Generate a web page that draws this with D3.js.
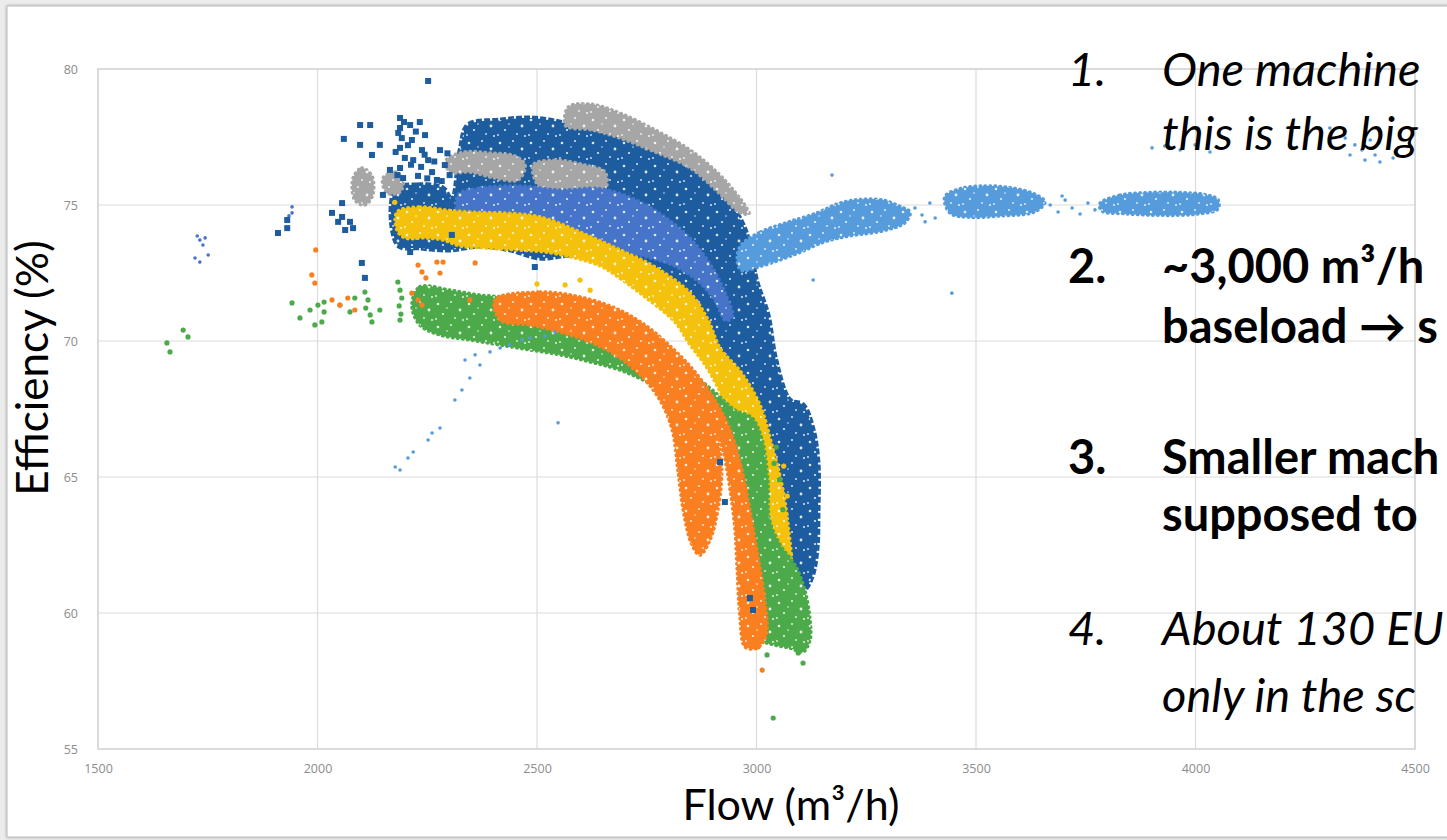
<!DOCTYPE html>
<html>
<head>
<meta charset="utf-8">
<title>Flow vs efficiency</title>
<script src="https://cdnjs.cloudflare.com/ajax/libs/d3/7.8.5/d3.min.js"></script>
<style>
  body { margin: 0; background: #ececec; }
  svg { display: block; }
</style>
</head>
<body>
<div id="chart"></div>
<script>
// axis ticks
var flowTicks = [1500, 2000, 2500, 3000, 3500, 4000, 4500];
var effTicks = [55, 60, 65, 70, 75, 80];

// dense clouds are traced as outlines of [flow, efficiency], sparse points listed one by one
var darkBlueCloud = [[2177,75.55],[2233,75.74],[2286,75.62],[2306,75.18],[2325,77.02],[2343,77.94],[2416,78.12],[2484,78.20],
  [2552,78.05],[2598,77.83],[2689,77.46],[2769,76.95],[2849,76.36],[2905,75.62],[2953,74.74],[2976,74.01],[2990,72.98],
  [3001,72.17],[3026,70.96],[3044,69.30],[3076,67.83],[3106,67.65],[3129,66.73],[3140,65.51],[3140,63.68],[3138,62.43],
  [3129,61.47],[3115,60.96],[3099,60.70],[3088,61.21],[3076,62.68],[3065,64.15],[3049,65.44],[3019,66.73],[2962,67.65],
  [2940,69.12],[2905,70.22],[2867,71.32],[2814,72.06],[2746,72.79],[2666,73.16],[2575,73.16],[2507,73.05],[2438,73.35],
  [2370,73.49],[2302,73.35],[2233,73.42],[2183,73.53]];
var darkBluePoints = [[2252,79.56],[2097,77.94],[2120,77.94],[2060,77.43],[2097,77.21],[2142,77.21],[2033,74.71],[2056,75.07],
  [2047,74.38],[2074,74.38],[2063,74.08],[2056,74.56],[2081,74.15],[1931,74.45],[1910,73.97],[1931,74.15],[2101,72.87],
  [2108,72.32],[2211,73.27],[2306,73.90],[2495,72.72],[2149,75.37],[2124,76.84],[2165,76.29],
  [2188,78.20],[2188,77.83],[2192,77.46],[2188,77.10],[2199,76.73],[2188,76.36],[2195,75.99],[2211,77.94],[2215,77.39],
  [2233,78.05],[2245,77.57],[2238,77.02],[2252,76.65],[2261,76.21],[2272,75.92],[2279,77.02],[2290,76.47],[2218,76.65],
  [2229,76.07],[2184,77.65],[2197,78.05],[2206,77.20],[2213,76.48],[2224,77.70],[2236,76.40],[2244,76.85],[2250,75.98],
  [2266,76.60],[2283,75.88],[2296,76.90],[2301,76.10],[2178,76.95],[2182,76.10],
  [2917,65.55],[2928,64.08],[2985,60.55],[2992,60.11]];

var greyArc = [[2564,77.94],[2571,78.60],[2621,78.71],[2689,78.38],[2769,77.76],[2849,77.02],[2912,76.18],[2953,75.44],
  [2976,74.93],[2983,74.67],[2960,74.74],[2912,75.48],[2849,76.36],[2769,76.95],[2689,77.46],[2625,77.76],[2577,77.83]];
var greyPatchA = [[2081,75.99],[2101,76.36],[2124,76.07],[2126,75.37],[2108,75.00],[2085,75.18]];
var greyPatchB = [[2293,76.65],[2336,76.95],[2393,76.91],[2450,76.80],[2473,76.47],[2457,75.92],[2404,75.99],[2347,76.21],[2302,76.21]];
var greyPatchC = [[2491,76.47],[2541,76.65],[2609,76.47],[2655,76.21],[2655,75.55],[2609,75.33],[2552,75.44],[2507,75.62]];
var greyPatchD = [[2149,75.99],[2177,76.21],[2195,75.92],[2188,75.48],[2158,75.44]];

var midBlueCloud = [[2320,75.37],[2370,75.62],[2461,75.70],[2552,75.55],[2644,75.60],[2723,75.20],[2792,74.55],[2853,73.70],
  [2899,72.70],[2930,71.70],[2945,70.90],[2930,70.75],[2905,71.50],[2867,72.20],[2815,72.75],[2760,73.05],
  [2689,73.30],[2609,73.55],[2534,73.85],[2461,74.10],[2393,74.20],[2329,74.28]];
var midBluePoints = [[1726,73.86],[1732,73.71],[1744,73.79],[1739,73.53],[1721,73.05],[1732,72.90],[1751,73.16],
  [1942,74.93],[1942,74.71],[1935,74.60]];

var yellowCloud = [[2181,74.74],[2233,74.93],[2290,74.82],[2347,74.74],[2416,74.71],[2484,74.63],[2530,74.45],[2609,73.93],
  [2689,73.35],[2769,72.72],[2849,71.76],[2890,70.77],[2917,69.74],[2965,68.85],[3008,67.65],[3035,66.18],[3058,64.71],
  [3072,63.24],[3079,61.76],[3067,60.85],[3044,60.77],[3026,61.58],[3008,63.24],[2985,65.07],[2956,66.73],[2921,68.01],
  [2883,69.12],[2849,69.85],[2814,70.70],[2746,71.62],[2678,72.43],[2644,72.76],[2587,73.05],[2518,73.27],[2450,73.35],
  [2382,73.42],[2325,73.49],[2286,73.71],[2245,73.79],[2199,73.79],[2181,74.08]];
var yellowPoints = [[2598,72.24],[2621,71.87],[2564,72.06],[2176,75.10],[2500,72.10],[3062,65.40],[3070,64.30],[3066,63.10]];

var greenCloud = [[2215,71.32],[2233,71.99],[2302,71.87],[2370,71.69],[2461,71.58],[2552,71.32],[2644,71.03],[2712,70.48],
  [2780,69.67],[2849,68.86],[2905,68.12],[2951,67.46],[2990,67.17],[3013,66.36],[3026,64.89],[3030,63.42],[3054,62.50],
  [3088,61.76],[3110,60.85],[3122,59.74],[3122,59.01],[3106,58.57],[3076,58.71],[3042,58.82],[3013,59.01],[2990,60.48],
  [2985,61.95],[2981,63.42],[2972,64.89],[2958,65.99],[2928,66.80],[2883,67.46],[2826,68.01],[2757,68.46],[2689,68.93],
  [2621,69.23],[2552,69.49],[2484,69.67],[2416,69.85],[2347,70.04],[2279,70.22],[2233,70.59]];
var greenPoints = [[1657,69.93],[1664,69.60],[1694,70.40],[1705,70.15],[1942,71.40],[1960,70.85],[1983,71.14],[2001,71.32],
  [2010,70.70],[1994,70.59],[2015,71.43],[2015,71.07],[2108,71.80],[2115,71.51],[2110,71.21],[2120,70.96],[2124,70.70],
  [2183,72.17],[2188,71.87],[2192,71.58],[2186,71.29],[2190,70.99],[2188,70.77],[2051,71.32],[2074,71.07],[2085,71.58],
  [2142,71.14],[3024,58.46],[3106,58.16],[3095,58.53],[3038,56.14],[3045,66.10],[3052,64.90],[3060,63.80],[3040,65.50]];

var orangeCloud = [[2404,71.51],[2507,71.80],[2598,71.62],[2678,71.21],[2746,70.59],[2808,69.74],[2860,68.86],[2905,67.83],
  [2940,66.73],[2967,65.26],[2985,63.79],[3003,62.13],[3019,60.48],[3022,59.19],[3001,58.71],[2974,58.75],[2962,59.93],
  [2956,61.58],[2951,63.05],[2940,64.52],[2926,65.81],[2912,66.54],[2921,65.26],[2912,63.79],[2894,62.68],[2871,62.13],
  [2853,62.50],[2835,63.60],[2821,65.26],[2808,66.73],[2780,67.83],[2735,68.75],[2678,69.49],[2621,69.96],[2552,70.33],
  [2484,70.59],[2416,70.77]];
var orangePoints = [[1987,72.43],[1994,72.13],[1996,73.35],[2229,72.79],[2238,72.54],[2247,72.32],[2033,71.51],[2051,71.32],
  [2069,71.58],[2085,71.14],[2215,71.76],[2229,71.51],[2238,71.32],[2272,72.90],[2286,72.90],[2359,72.87],[2279,72.50],
  [2347,71.51],[3003,58.75],[3013,57.90]];

var lightBlueCloud1 = [[2965,73.53],[3010,74.01],[3074,74.38],[3138,74.71],[3186,75.05],[3233,75.20],[3288,75.18],[3329,74.93],
  [3350,74.74],[3338,74.35],[3288,74.05],[3208,73.85],[3154,73.64],[3090,73.20],[3010,72.75],[2965,72.60],[2956,73.05]];
var lightBlueCloud2 = [[3429,75.30],[3464,75.60],[3520,75.70],[3577,75.64],[3634,75.40],[3657,75.11],[3634,74.75],[3555,74.60],
  [3486,74.55],[3441,74.70]];
var lightBlueCloud3 = [[3782,75.05],[3828,75.36],[3896,75.46],[3965,75.46],[4022,75.38],[4051,75.20],[4051,74.85],[3999,74.66],
  [3919,74.62],[3839,74.68],[3787,74.78]];
var lightBluePoints = [[3361,74.89],[3377,74.63],[3395,75.07],[3407,74.52],[3384,74.38],[3669,75.00],[3687,74.74],[3703,75.18],
  [3719,74.89],[3737,74.67],[3755,75.07],[3771,74.82],[3696,75.33],[3172,76.10],[3129,72.24],[3445,71.76],
  [3901,77.10],[3930,77.17],[3965,77.02],[3999,77.21],[4033,76.95],[4306,77.83],[4341,77.46],[4363,77.21],[4379,77.02],
  [4398,77.39],[4409,76.84],[4420,76.58],[4439,77.10],[4450,76.73],[4352,76.84],[4386,76.65],
  [2177,65.37],[2188,65.26],[2206,65.70],[2218,65.92],[2252,66.36],[2261,66.62],[2279,66.80],[2313,67.83],[2329,68.20],
  [2347,68.64],[2370,69.12],[2336,69.30],[2359,69.49],[2393,69.60],[2416,69.74],[2438,69.85],[2466,70.04],[2484,70.11],
  [2518,70.18],[2541,70.33],[2548,66.99]];

var notes = [
  {num: "1.", lines: ["One machine", "this is the big"], italic: true},
  {num: "2.", lines: ["~3,000 m³/h", "baseload \u2192 s"], italic: false},
  {num: "3.", lines: ["Smaller mach", "supposed to"], italic: false},
  {num: "4.", lines: ["About 130 EU", "only in the sc"], italic: true}
];
var noteBase = [86, 283, 474, 645];
var noteGap = [64, 60, 57, 67];

var series = [
  {color: "#1d5d9f", clouds: [darkBlueCloud], points: [], square: true},
  {color: "#a6a6a6", clouds: [greyArc, greyPatchA, greyPatchB, greyPatchC, greyPatchD], points: []},
  {color: "#4674c8", clouds: [midBlueCloud], points: []},
  {color: "#f4c20d", clouds: [yellowCloud], points: []},
  {color: "#4caa4a", clouds: [greenCloud], points: greenPoints},
  {color: "#f4c20d", clouds: [], points: yellowPoints},
  {color: "#fa7f20", clouds: [orangeCloud], points: orangePoints},
  {color: "#569cdc", clouds: [lightBlueCloud1, lightBlueCloud2, lightBlueCloud3], points: lightBluePoints, small: true},
  {color: "#4674c8", clouds: [], points: midBluePoints, small: true},
  {color: "#1d5d9f", clouds: [], points: darkBluePoints, square: true}
];

var width = 1447, height = 840;
var x = d3.scaleLinear().domain([1500, 4500]).range([98, 1415]);
var y = d3.scaleLinear().domain([55, 80]).range([749, 69]);

var svg = d3.select("#chart").append("svg")
    .attr("width", width)
    .attr("height", height);

var defs = svg.append("defs");
var sh = defs.append("filter").attr("id", "shadow")
    .attr("x", "-2%").attr("y", "-2%").attr("width", "104%").attr("height", "104%");
sh.append("feDropShadow").attr("dx", 0).attr("dy", 0).attr("stdDeviation", 1.5)
    .attr("flood-color", "#777").attr("flood-opacity", 0.6);

// white specks so the clouds read as dots rather than flat shapes
var speck = defs.append("pattern").attr("id", "speck")
    .attr("patternUnits", "userSpaceOnUse").attr("width", 31).attr("height", 23);
[[4,5,1.3],[17,3,1.0],[26,11,1.4],[9,15,1.1],[21,19,0.9],[13,9,0.8],[29,21,1.0],[2,20,0.9]].forEach(function(c){
    speck.append("circle").attr("cx", c[0]).attr("cy", c[1]).attr("r", c[2]).attr("fill", "#fff");
});

// slide card
svg.append("rect")
    .attr("x", 7).attr("y", 6).attr("width", 1470).attr("height", 831)
    .attr("fill", "#fff").attr("stroke", "#bfbfbf")
    .attr("filter", "url(#shadow)");

// grid
var grid = svg.append("g");
grid.selectAll("line.v").data(flowTicks).enter().append("line")
    .attr("x1", function(d){ return x(d); }).attr("x2", function(d){ return x(d); })
    .attr("y1", y(80)).attr("y2", y(55))
    .attr("stroke", "#dcdcdc").attr("stroke-width", 1.2);
grid.selectAll("line.h").data(effTicks).enter().append("line")
    .attr("x1", x(1500)).attr("x2", x(4500))
    .attr("y1", function(d){ return y(d); }).attr("y2", function(d){ return y(d); })
    .attr("stroke", "#dcdcdc").attr("stroke-width", 1.2);
grid.append("rect")
    .attr("x", x(1500)).attr("y", y(80))
    .attr("width", x(4500) - x(1500)).attr("height", y(55) - y(80))
    .attr("fill", "none").attr("stroke", "#d6d6d6").attr("stroke-width", 1.6);

// tick labels
var yAxis = svg.append("g").attr("transform", "translate(" + x(1500) + ",0)")
    .call(d3.axisLeft(y).tickValues(effTicks).tickSize(0).tickPadding(20));
var xAxis = svg.append("g").attr("transform", "translate(0," + y(55) + ")")
    .call(d3.axisBottom(x).tickValues(flowTicks).tickFormat(d3.format("d")).tickSize(0).tickPadding(15));
[yAxis, xAxis].forEach(function(a){
    a.select(".domain").remove();
    a.selectAll("text")
        .attr("fill", "#8c8c8c")
        .style("font-family", "'Open Sans', sans-serif")
        .style("font-size", "12.5px");
});

// clouds then single points
var cloudLine = d3.line()
    .x(function(d){ return x(d[0]); })
    .y(function(d){ return y(d[1]); })
    .curve(d3.curveCatmullRomClosed.alpha(0.5));

var plot = svg.append("g");
series.forEach(function(s){
    var g = plot.append("g");
    g.selectAll("path.fill").data(s.clouds).enter().append("path")
        .attr("class", "fill")
        .attr("d", cloudLine)
        .attr("fill", s.color)
        .attr("stroke", s.color)
        .attr("stroke-width", s.square ? 5 : 3.5)
        .attr("stroke-linecap", s.square ? "square" : "round")
        .attr("stroke-dasharray", s.square ? "1 7" : "0.5 4.5");
    g.selectAll("path.speck").data(s.clouds).enter().append("path")
        .attr("class", "speck")
        .attr("d", cloudLine)
        .attr("fill", "url(#speck)")
        .attr("opacity", 0.85);
    if (s.square) {
        g.selectAll("rect").data(s.points).enter().append("rect")
            .attr("x", function(d){ return x(d[0]) - 3; })
            .attr("y", function(d){ return y(d[1]) - 3; })
            .attr("width", 6).attr("height", 6)
            .attr("fill", s.color);
    } else {
        g.selectAll("circle").data(s.points).enter().append("circle")
            .attr("cx", function(d){ return x(d[0]); })
            .attr("cy", function(d){ return y(d[1]); })
            .attr("r", s.small ? 1.8 : 2.6)
            .attr("fill", s.color);
    }
});

// axis titles
var font = "Lato, 'Open Sans', sans-serif";
svg.append("text")
    .attr("transform", "translate(48,368) rotate(-90)")
    .attr("text-anchor", "middle")
    .style("font-family", font).style("font-size", "44px")
    .attr("fill", "#000")
    .text("Efficiency (%)");
svg.append("text")
    .attr("x", 791).attr("y", 820)
    .attr("text-anchor", "middle")
    .style("font-family", font).style("font-size", "43px")
    .attr("fill", "#000")
    .text("Flow (m³/h)");

// notes on the right
var notesG = svg.append("g");
notes.forEach(function(n, i){
    var base = noteBase[i];
    var t = notesG.append("g")
        .style("font-family", font)
        .style("font-size", n.italic ? "47px" : "47px")
        .style("font-style", n.italic ? "italic" : "normal")
        .style("font-weight", n.italic ? "normal" : "bold")
        .attr("fill", "#000");
    t.append("text").attr("x", 1068).attr("y", base).text(n.num);
    n.lines.forEach(function(l, j){
        t.append("text").attr("x", 1162).attr("y", base + j * noteGap[i]).text(l);
    });
});
</script>
</body>
</html>
